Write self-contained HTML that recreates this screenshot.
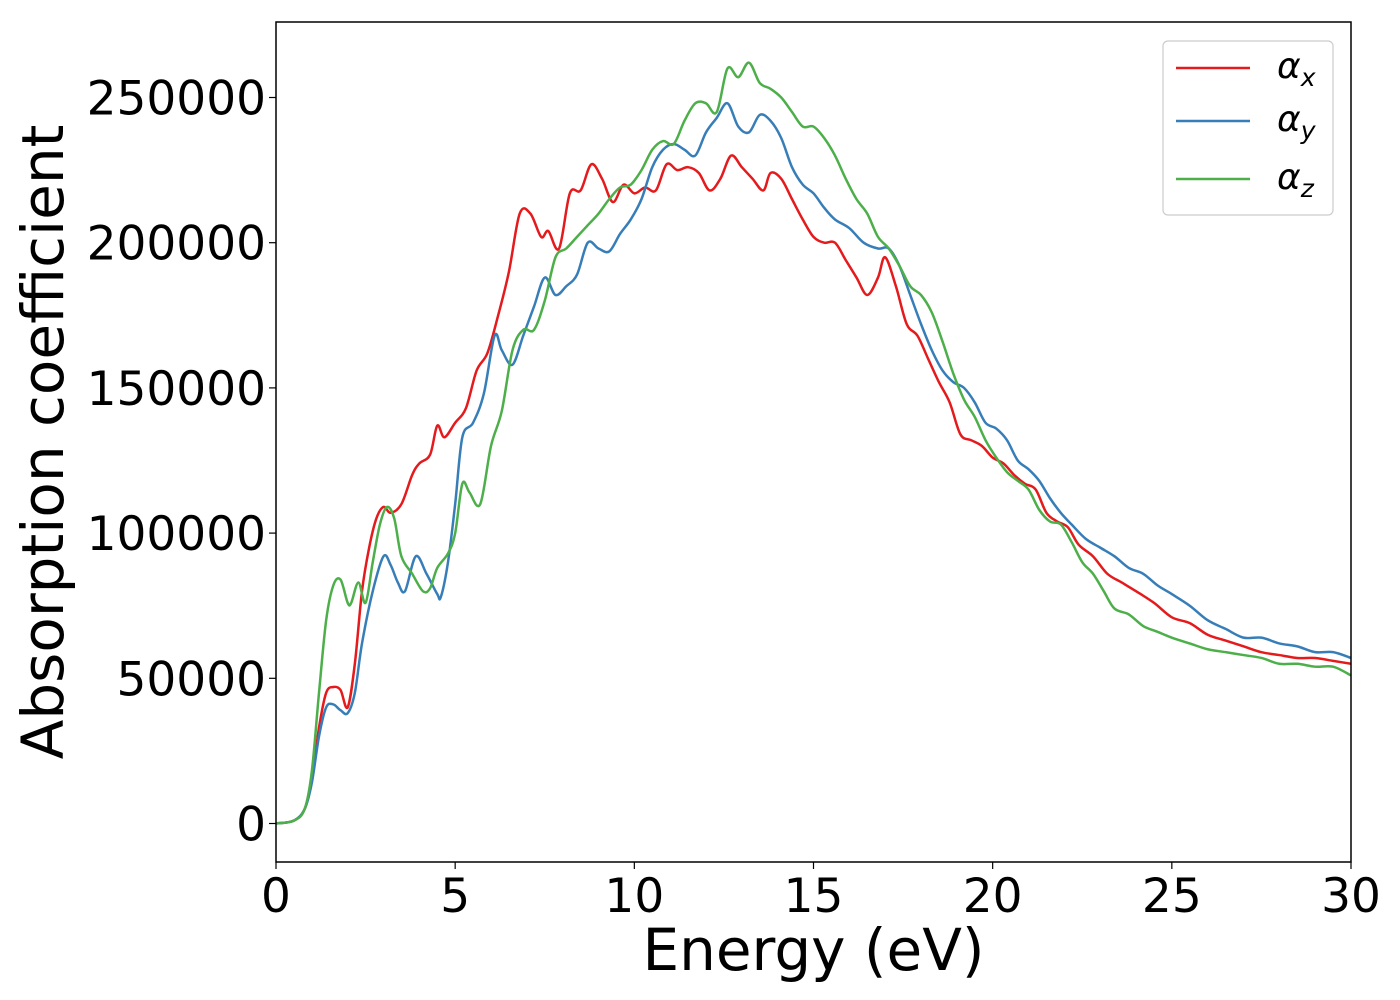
<!DOCTYPE html>
<html><head><meta charset="utf-8"><style>
body{margin:0;background:#fff;}
svg{display:block;font-family:"DejaVu Sans","Liberation Sans",sans-serif;}
</style></head><body>
<svg id="chart" width="1400" height="1000">
<g id="plot"></g>
</svg>
<script>
const energyX=[0,0.5,0.8,1.0,1.2,1.4,1.6,1.8,2.0,2.2,2.4,2.6,2.8,3.0,3.2,3.5,3.8,4.0,4.3,4.5,4.7,5.0,5.3,5.6,5.9,6.2,6.5,6.8,7.1,7.4,7.6,7.9,8.2,8.5,8.8,9.1,9.4,9.7,10.0,10.3,10.6,10.9,11.2,11.5,11.8,12.1,12.4,12.7,13.0,13.3,13.6,13.8,14.1,14.4,14.7,15.0,15.3,15.6,15.9,16.2,16.5,16.8,17.0,17.3,17.6,17.9,18.2,18.5,18.8,19.1,19.4,19.7,20.0,20.3,20.6,20.9,21.2,21.5,21.8,22.1,22.4,22.8,23.2,23.6,24.0,24.5,25.0,25.5,26.0,26.5,27.0,27.5,28.0,28.5,29.0,29.5,30];
const alphaX=[0,1,5,15,33,45,47,46,40,55,80,95,105,109,107,110,120,124,127,137,133,138,143,156,162,175,190,210,210,202,204,198,217,218,227,222,214,220,217,219,218,227,225,226,224,218,222,230,226,222,218,224,222,215,208,202,200,200,194,188,182,188,195,185,172,168,160,152,145,134,132,130,126,124,120,117,115,107,104,102,96,92,86,83,80,76,71,69,65,63,61,59,58,57,57,56,55];
const energyY=[0,0.5,0.8,1.0,1.2,1.4,1.6,1.8,2.0,2.2,2.4,2.7,3.0,3.2,3.4,3.6,3.9,4.2,4.5,4.6,4.8,5.0,5.2,5.5,5.8,6.1,6.3,6.6,6.9,7.2,7.5,7.8,8.1,8.4,8.7,9.0,9.3,9.6,9.9,10.2,10.5,10.8,11.1,11.4,11.7,12.0,12.3,12.6,12.9,13.2,13.5,13.8,14.1,14.4,14.7,15.0,15.3,15.6,16.0,16.4,16.8,17.1,17.4,17.7,18.0,18.3,18.6,18.9,19.2,19.5,19.8,20.1,20.4,20.7,21.0,21.3,21.6,21.9,22.2,22.6,23.0,23.4,23.8,24.2,24.6,25.0,25.5,26.0,26.5,27.0,27.5,28.0,28.5,29.0,29.5,30];
const alphaY=[0,1,5,14,30,40,41,39,38,45,62,80,92,89,83,80,92,86,79,78,90,110,133,138,148,168,163,158,168,178,188,182,185,189,200,198,197,203,208,215,226,232,234,232,230,238,243,248,240,238,244,242,236,226,220,217,212,208,205,200,198,198,192,182,172,163,156,152,150,145,138,136,132,125,122,118,112,107,103,98,95,92,88,86,82,79,75,70,67,64,64,62,61,59,59,57];
const energyZ=[0,0.5,0.8,1.0,1.2,1.4,1.6,1.8,2.0,2.1,2.3,2.5,2.7,2.9,3.1,3.3,3.5,3.8,4.1,4.3,4.5,4.8,5.0,5.2,5.4,5.7,6.0,6.3,6.6,6.9,7.2,7.5,7.8,8.1,8.4,8.7,9.0,9.3,9.6,9.9,10.2,10.5,10.8,11.1,11.4,11.7,12.0,12.3,12.6,12.9,13.2,13.5,13.8,14.1,14.4,14.7,15.0,15.3,15.6,15.9,16.2,16.5,16.8,17.1,17.4,17.7,18.0,18.3,18.6,18.9,19.2,19.5,19.8,20.1,20.4,20.7,21.0,21.3,21.6,21.9,22.2,22.5,22.8,23.1,23.4,23.8,24.2,24.6,25.0,25.5,26.0,26.5,27.0,27.5,28.0,28.5,29.0,29.5,30];
const alphaZ=[0,1,5,18,45,70,82,84,76,76,83,76,90,103,109,105,92,86,80,81,88,93,100,117,114,110,130,142,163,170,170,180,195,198,202,206,210,215,219,220,225,232,235,234,242,248,248,245,260,257,262,255,253,250,245,240,240,236,230,222,215,210,202,198,192,185,182,176,166,155,146,140,132,126,121,118,115,108,104,103,97,90,86,80,74,72,68,66,64,62,60,59,58,57,55,55,54,54,51];
const xTicks=[0,5,10,15,20,25,30];
const yTicks=[0,50000,100000,150000,200000,250000];
const seriesNames=["α_x","α_y","α_z"];

const L=276,R=1351,T=22,B=862;
const sx=v=>L+(v/30)*(R-L);
const sy=v=>823.5-v*0.002904;
const NS="http://www.w3.org/2000/svg";
const g=document.getElementById('plot');
function mk(tag,attrs,parent){const e=document.createElementNS(NS,tag);for(const k in attrs)e.setAttribute(k,attrs[k]);(parent||g).appendChild(e);return e;}
function pathFor(xs,ys){
  const p=xs.map((x,i)=>[sx(x),sy(ys[i]*1000)]);
  let d="M"+p[0][0]+","+p[0][1];
  for(let i=0;i<p.length-1;i++){
    const p0=p[i-1]||p[i],p1=p[i],p2=p[i+1],p3=p[i+2]||p2;
    const c1x=p1[0]+(p2[0]-p0[0])/6,c1y=p1[1]+(p2[1]-p0[1])/6;
    const c2x=p2[0]-(p3[0]-p1[0])/6,c2y=p2[1]-(p3[1]-p1[1])/6;
    d+=` C${c1x},${c1y} ${c2x},${c2y} ${p2[0]},${p2[1]}`;
  }
  return d;
}
const cols=["#e41a1c","#377eb8","#4daf4a"];
const data=[[energyX,alphaX],[energyY,alphaY],[energyZ,alphaZ]];
const names=['series-alpha-x','series-alpha-y','series-alpha-z'];
const clip=mk('clipPath',{id:'clp'});mk('rect',{x:L,y:T,width:R-L,height:B-T},clip);
data.forEach((d,i)=>{
  const p=mk('path',{d:pathFor(d[0],d[1]),fill:'none',stroke:cols[i],'stroke-width':2.5,'clip-path':'url(#clp)'});
  
  
});
const frame=mk('rect',{x:L,y:T,width:R-L,height:B-T,fill:'none',stroke:'#000','stroke-width':1.5});


xTicks.forEach(v=>{
  const t=mk('line',{x1:sx(v),x2:sx(v),y1:B,y2:B+7,stroke:'#000','stroke-width':1.2});
  
  
  const tx=mk('text',{x:sx(v),y:B+50,'font-size':47,'text-anchor':'middle'});
  tx.textContent=v;
  
  
});
yTicks.forEach(v=>{
  const t=mk('line',{x1:L-7,x2:L,y1:sy(v),y2:sy(v),stroke:'#000','stroke-width':1.2});
  
  
  const tx=mk('text',{x:L-10,y:sy(v)+17,'font-size':47,'text-anchor':'end'});
  tx.textContent=v;
  
  
});
const xl=mk('text',{x:(L+R)/2,y:970,'font-size':58,'text-anchor':'middle'});
xl.textContent='Energy (eV)';


const yl=mk('text',{x:0,y:0,'font-size':58,'text-anchor':'middle',transform:`translate(63,${(T+B)/2}) rotate(-90)`});
yl.textContent='Absorption coefficient';


const lg=mk('g',{});


mk('rect',{x:1163,y:41,width:170,height:174,rx:5,fill:'#fff',stroke:'#ccc','stroke-width':1.2},lg);
const ly=[68,121,179];
seriesNames.forEach((n,i)=>{
  const ln=mk('line',{x1:1176,x2:1250,y1:ly[i],y2:ly[i],stroke:cols[i],'stroke-width':2.5},lg);
  
  
  const t=mk('text',{x:1277,y:ly[i]+10,'font-size':36,'font-style':'italic'},lg);
  const parts=n.split('_');
  t.textContent=parts[0];
  const s=mk('tspan',{'font-size':25,dy:8},t);
  s.textContent=parts[1];
  
  
});
</script>
</body></html>
